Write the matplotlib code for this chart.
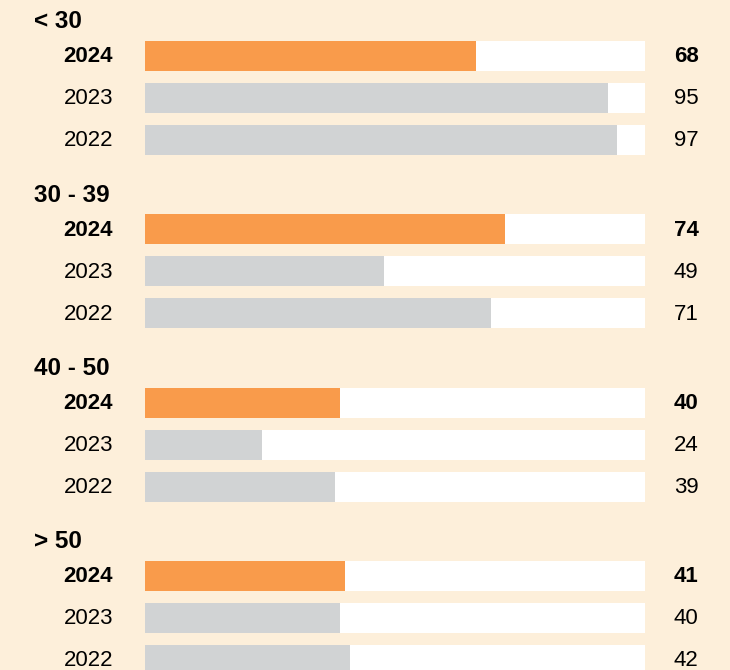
import matplotlib.pyplot as plt

plt.rcParams["font.family"] = ["Liberation Sans", "DejaVu Sans"]

groups = ["< 30", "30 - 39", "40 - 50", "> 50"]
years = ["2024", "2023", "2022"]
values = [
    [68, 95, 97],
    [74, 49, 71],
    [40, 24, 39],
    [41, 40, 42],
]
track_max = 102.7

BG = "#FDEFDA"
ORANGE = "#F99B4B"
GREY = "#D1D3D4"

# layout in pixels (figure is 730 x 670)
W, H = 730, 670
bar_left = 145
px_per_unit = 4.87
group_top0 = 21
group_step = 173.3
first_row = 35
row_step = 42
bar_h = 30

fig = plt.figure(figsize=(W / 100, H / 100), dpi=100)
fig.patch.set_facecolor(BG)
ax = fig.add_axes([0, 0, 1, 1])
ax.set_facecolor(BG)
ax.set_xlim(-bar_left / px_per_unit, (W - bar_left) / px_per_unit)
ax.set_ylim(H, 0)
ax.axis("off")

x_year = -32 / px_per_unit
x_head = -111 / px_per_unit
x_val = 529 / px_per_unit

for g, name in enumerate(groups):
    top = group_top0 + g * group_step
    ax.text(x_head, top + 1, name, fontsize=17.5, fontweight="bold",
            ha="left", va="center")
    for i, yr in enumerate(years):
        y = top + first_row + i * row_step
        weight = "bold" if i == 0 else "normal"
        color = ORANGE if i == 0 else GREY
        ax.barh(y, track_max, height=bar_h, left=0, color="white")
        ax.barh(y, values[g][i], height=bar_h, left=0, color=color)
        ax.text(x_year, y + 1, yr, fontsize=16, fontweight=weight,
                ha="right", va="center")
        ax.text(x_val, y + 1, str(values[g][i]), fontsize=16,
                fontweight=weight, ha="left", va="center")

fig.savefig("out.png", dpi=100, facecolor=BG)
